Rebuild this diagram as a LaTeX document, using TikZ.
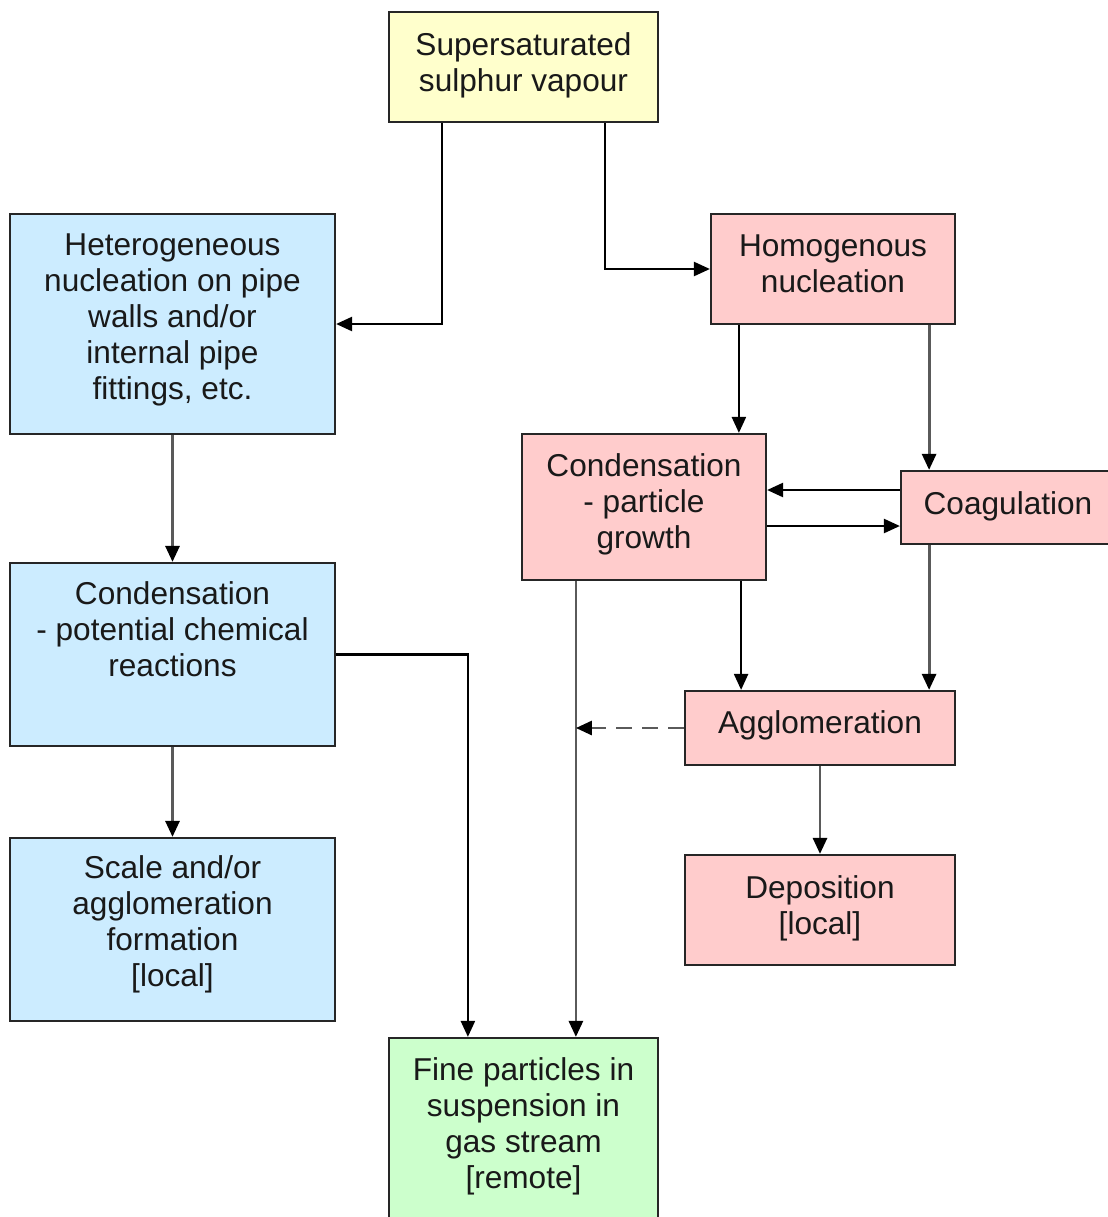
\documentclass[tikz,border=0pt]{standalone}
\usepackage{fontspec}
\setmainfont{Liberation Sans}
\usetikzlibrary{arrows.meta,calc}
\definecolor{cyel}{HTML}{FFFFCC}
\definecolor{cblu}{HTML}{CCECFF}
\definecolor{cpnk}{HTML}{FFCCCC}
\definecolor{cgrn}{HTML}{CCFFCC}
\definecolor{cline}{HTML}{5A5A5A}
\begin{document}
\begin{tikzpicture}[x=0.5pt,y=-0.5pt,
  box/.style={draw=black!85, line width=1.1pt, inner sep=0pt, rectangle},
  txt/.style={align=center, inner sep=0pt, font=\fontsize{15.8pt}{18pt}\selectfont, text=black!90},
  tip/.style={-{Triangle[length=8pt,width=7pt,color=black]}},
  conn/.style={draw=black, line width=1.2pt, tip},
  gconn/.style={draw=cline, line width=1.4pt, tip},
  dconn/.style={draw=cline, line width=1.4pt, dash pattern=on 8pt off 5pt, tip}]
\useasboundingbox (0,0) rectangle (1108,1217);

% boxes
\node[box, fill=cyel, minimum width=134.5pt, minimum height=55pt] (sup) at (523.5,67) {};
\node[box, fill=cblu, minimum width=162.5pt, minimum height=110pt] (het) at (172.5,324) {};
\node[box, fill=cpnk, minimum width=122pt, minimum height=55pt] (hom) at (833,269) {};
\node[box, fill=cpnk, minimum width=122pt, minimum height=73pt] (cg) at (644,507) {};
\node[box, fill=cpnk, minimum width=107pt, minimum height=36.5pt] (coag) at (1008,507.5) {};
\node[box, fill=cblu, minimum width=162.5pt, minimum height=91.5pt] (cp) at (172.5,654.5) {};
\node[box, fill=cpnk, minimum width=135pt, minimum height=37pt] (agg) at (820,728) {};
\node[box, fill=cpnk, minimum width=135pt, minimum height=55pt] (dep) at (820,910) {};
\node[box, fill=cblu, minimum width=162.5pt, minimum height=91.5pt] (scale) at (172.5,929.5) {};
\node[box, fill=cgrn, minimum width=134.5pt, minimum height=93.5pt] (fine) at (523.5,1131.5) {};

% texts
\node[txt] (sup-t) at (523.5,65) {Supersaturated\\sulphur vapour};
\node[txt] (het-t) at (172.5,320) {Heterogeneous\\nucleation on pipe\\walls and/or\\internal pipe\\fittings, etc.};
\node[txt] (hom-t) at (833,264) {Homogenous\\nucleation};
\node[txt] (cg-t) at (644,504) {Condensation\\- particle\\growth};
\node[txt] (coag-t) at (1008,506) {Coagulation};
\node[txt] (cp-t) at (172.5,629) {Condensation\\- potential chemical\\reactions};
\node[txt] (agg-t) at (820,725) {Agglomeration};
\node[txt] (dep-t) at (820,908) {Deposition\\{}[local]};
\node[txt] (scale-t) at (172.5,924) {Scale and/or\\agglomeration\\formation\\{}[local]};
\node[txt] (fine-t) at (523.5,1126) {Fine particles in\\suspension in\\gas stream\\{}[remote]};

% helper coordinates
\path ([xshift=27pt]sup.south west) coordinate (s1)
      ([xshift=-27pt]sup.south east) coordinate (s2)
      ([xshift=14.5pt]hom.south west) coordinate (h1)
      ([xshift=-13.5pt]hom.south east) coordinate (h2)
      ([yshift=8.75pt]coag.west) coordinate (k1)
      ([yshift=-9.25pt]coag.west) coordinate (k2)
      ([xshift=27.5pt]cg.south west) coordinate (g1)
      ([xshift=-13pt]cg.south east) coordinate (g2)
      ([xshift=40pt]fine.north west) coordinate (f1)
      (g1 |- agg.west) coordinate (a1);

% connectors
\draw[conn] (s1) |- (het.east);
\draw[conn] (s2) |- (hom.west);
\draw[gconn] (het.south) -- (cp.north);
\draw[gconn] (cp.south) -- (scale.north);
\draw[conn] (cp.east) -| (f1);
\draw[conn] (h1) -- (h1 |- cg.north);
\draw[gconn] (h2) -- (h2 |- coag.north);
\draw[conn] (k1) -- (k1 -| cg.east);
\draw[conn] (k2 -| cg.east) -- (k2);
\draw[gconn] (g1) -- (g1 |- fine.north);
\draw[conn] (g2) -- (g2 |- agg.north);
\draw[gconn] (coag.south -| h2) -- (h2 |- agg.north);
\draw[dconn] (agg.west) -- (a1);
\draw[gconn] (agg.south) -- (dep.north);
\end{tikzpicture}
\end{document}
